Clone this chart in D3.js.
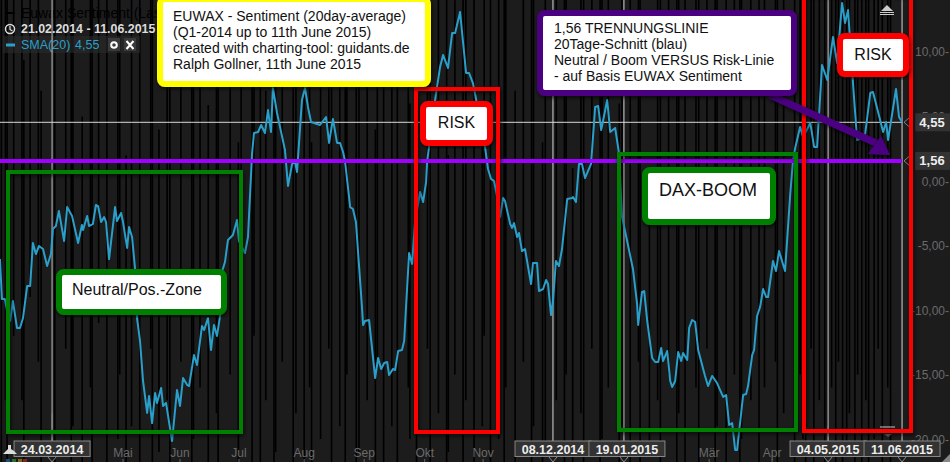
<!DOCTYPE html>
<html><head><meta charset="utf-8">
<script src="https://cdn.jsdelivr.net/npm/d3@7/dist/d3.min.js"></script>
<style>html,body{margin:0;padding:0;background:#1c1c1c;overflow:hidden}svg{display:block;font-family:"Liberation Sans",Arial,sans-serif}</style>
</head><body><svg id="c" width="950" height="462"></svg>
<script>
const smaSessions=[0,0.7,1.8,2.6,3.7,4.7,6.2,7.3,8.4,9.9,11,12,13.1,14.2,15.7,17.2,18.6,19.3,20.4,21.5,23.4,24.5,26.3,28.5,29.9,30.3,31.8,32.5,33.9,35,35.8,36.9,38,38.7,39.8,42,42.7,44.2,44.9,46.4,47.1,48.2,49.3,50,51.1,52.2,53.7,54.4,55.5,56.6,57.3,58.8,59.5,60.6,62.8,64.6,65.7,66.8,68.3,69,70.8,71.9,73.7,74.5,75.9,77,78.1,79.2,80.3,81,82.1,83.2,85,86.5,87.2,89.4,90.5,92,92.7,94.2,95.3,96.7,97.8,98.9,99.6,101.1,104,105.1,106.6,107.7,108.4,110.2,111.3,112.4,113.5,115.7,116.8,119,120.1,121.5,123,124.1,125.2,125.9,127.8,128.8,129.9,132.1,132.5,133.2,134.7,136.9,138,139.1,140.2,141.3,142,143.4,144.2,145.3,146.7,147.5,148.2,149.3,150.4,151.5,153.3,154.4,155.5,155.9,158.8,160.6,161.7,163.5,165,166.1,167.9,170.1,171.2,172.6,174.5,177,178.1,179.2,180.3,181.4,182.5,183.6,184.3,186.2,186.9,187.6,188.7,189.4,190.5,191.6,193.8,194.5,196,196.7,198.2,199.3,200,201.1,201.8,202.9,204,205.1,207,208.8,209.1,210.2,211.3,212.4,213.5,215.7,217.2,218.3,219.4,221.6,222.7,224.5,225.9,227,228.1,231,232.5,232.9,234.3,235.1,236.2,238,239.1,240.2,241.3,242,243.5,244.6,245.3,246.4,247.5,248.6,249.3,250.8,251.5,252.6,253.7,254.8,257.3,258.4,259.9,261.7,263.9,265,266.1,267.2,268.3,269,271.2,272.3,273,274.5,275.2,276.3,277.4,278.5,279.6,280.3,282.1,283.2,284.3,286.5,288.4,289.4,290.2,292,293.1,295.7,297.1,298.2,300,301.9,304,305.5,307.3,308.4,309.5,310.3,311.3,312.8,314.6,315.7,317.6,318.6,322.3,323.4,324.1,327,328.1,329.2];
const smaValues=[-6.05,-9.15,-9.15,-10.08,-10.85,-9.3,-11.39,-11.39,-10.62,-8.14,-8.14,-4.81,-5.66,-5.04,-5.27,-6.59,-5.66,-3.72,-3.49,-2.33,-4.65,-2.02,-2.71,-4.81,-3.41,-3.8,-2.71,-3.49,-3.33,-1.86,-1.94,-3.18,-2.79,-3.18,-6.05,-2.02,-3.1,-2.48,-3.18,-5.19,-3.57,-4.34,-6.82,-10.62,-12.4,-15.5,-17.98,-16.66,-18.76,-16.43,-17.21,-16.04,-17.44,-17.21,-20.15,-16.2,-17.44,-15.27,-15.81,-15.89,-13.49,-14.26,-11.24,-11.55,-10.62,-13.1,-11.16,-12.01,-10.46,-7.05,-6.28,-4.57,-4.19,-3.02,-4.65,-5.58,-4.34,2.17,3.72,3.8,4.34,3.72,5.5,3.8,7.21,5.27,2.4,-0.39,1.32,1.47,0.7,6.28,7.21,5.74,4.57,4.42,4.34,4.96,2.95,4.81,2.95,2.95,2.25,1.55,-2.02,-2.17,-3.18,-9.77,-11.16,-10.85,-10.77,-15.27,-13.72,-14.57,-14.11,-14.03,-15.04,-14.57,-14.65,-13.18,-13.1,-12.4,-9.69,-5.58,-6.43,-3.1,-0.85,-1.63,-0.08,1.55,6.28,8.84,9.77,8.76,11.47,11.47,13.1,8.37,8.37,7.59,5.5,2.64,0.93,0.16,0,-1.16,-2.79,-1.32,-1.55,-3.33,-3.64,-3.26,-4.34,-4.03,-5.43,-5.27,-7.98,-6.36,-6.36,-8.53,-8.37,-7.67,-7.98,-10.39,-9.3,-6.2,-6.59,-5.27,-1.4,-1.32,-1.24,-1.63,1.32,1.32,0.23,1.32,5.74,5.81,3.95,6.28,3.8,4.11,2.17,-2.79,-3.88,-6.82,-9.53,-11.16,-8.6,-8.53,-10.85,-13.72,-14.03,-14.03,-12.94,-13.95,-13.18,-15.5,-15.97,-15.5,-13.25,-13.95,-13.33,-13.87,-11.39,-10.77,-10.93,-13.1,-15.11,-15.89,-15.11,-15.66,-16.74,-16.59,-18.91,-18.76,-20.85,-20.85,-16.59,-16.51,-15.89,-13.49,-13.1,-10.46,-9.77,-8.37,-8.99,-8.99,-6.2,-6.98,-5.43,-6.98,-1.01,1.55,2.56,4.19,3.41,4.5,2.64,2.64,8.99,7.83,11.16,9.15,13.8,12.25,13.25,10.7,7.59,3.18,3.33,3.57,6.82,6.9,3.8,4.57,3.18,7.13,4.96,4.55];

const rawSessions=[0.5,2,2.6,5,8,8.7,11,14,15,19,20,24,26,26.6,30,33,33.6,36,39,43,43.7,46,48,51,55,55.6,58,61,62,66,70,70.6,73,76,79,79.6,84,87,88,92,92.7,95,97,100,100.6,103,107,108,111,113,113.7,117,120,121,124,126,126.6,130,131,134,137,137.7,140,143,145,149,149.6,152,156,157,160,163,163.6,166,169,170,173,176,176.7,179,182,184,184.6,188,191,194,194.7,198,199,203,206,206.6,209,212,213,216,219,219.7,222,226,227,230,233,233.6,237,240,241,244,247,247.7,250,254,255,258,261,261.7,265,268,270,270.6,274,277,279,283,283.7,286,290,292,293,294,296,297,299,301,302,303.5,305,306,307.5,309,310,312,313,314.5,316,317,319,320.5,322,324,325,327,328];
const rawLows=[-22,-17,-22,-12,-17,-22,-9,-14,-22,-18,-22,-13,-22,-19,-22,-16,-22,-11,-22,-20,-15,-22,-19,-22,-13,-22,-21,-17,-22,-14,-22,-20,-16,-22,-18,-22,-15,-22,-19,-22,-12,-22,-17,-22,-21,-14,-22,-18,-22,-16,-22,-20,-13,-22,-19,-22,-15,-22,-21,-17,-22,-14,-22,-19,-22,-16,-20,-22,-13,-22,-18,-22,-21,-15,-22,-17,-22,-19,-12,-22,-20,-22,-16,-22,-14,-22,-19,-22,-21,-17,-22,-15,-22,-18,-22,-13,-22,-20,-16,-22,-19,-22,-14,-22,-21,-17,-22,-15,-22,-18,-22,-16,-22,-13,-22,-19,-22,-15,-22,-20,-17,-22,-16,-14,-22,-18,-22,-15,-20,-22,-13,-22,-17,-22,-19,-16,-22,-14,-22,-21,-18,-22,-15,-22,-17,-22,-20,-13,-22,-16,-22,-19,-22,-14,-22];
const rawHighs=[15,15,15,15,15,9.4,15,15,7,15,15,15,15,15,5,15,15,15,15,15,15,2,15,15,15,15,4,15,15,15,15,15,15,5.9,15,15,15,3,15,15,15,15,7,15,15,15,15,15,15,15,3,15,15,15,8,15,15,15,15,15,4,15,15,15,15,15,6,15,15,15,15,15,2,15,15,15,15,5,15,15,15,15,15,7,15,15,15,3,15,15,15,15,1,15,15,15,15,15,15,6,15,15,15,15,-3,15,15,15,15,15,15,15,15,15,15,15,15,15,15,15,15,15,15,15,15,15,15,15,15,15,15,15,15,15,15,15,15,15,15,15,15,15,15,15,15,15,15,15,15,15,15];

const yTickValues=[10,5,0,-5,-10,-15,-20];
const monthTicks=[[44.9,"Mai"],[65.7,"Jun"],[87.2,"Jul"],[111,"Aug"],[132.9,"Sep"],[155,"Okt"],[176.3,"Nov"],[258.8,"Mär"],[281.8,"Apr"]];
const dateMarkers=[[19,"24.03.2014"],[201.8,"08.12.2014"],[227.7,"19.01.2015"],[302.2,"04.05.2015"],[329.2,"11.06.2015"]];
const lastSma=4.55, divider=1.56, lastSession=329.2;
const titleLines=["EUWAX - Sentiment (20day-average)","(Q1-2014 up to 11th June 2015)","created with charting-tool: guidants.de","Ralph Gollner, 11th June 2015"];
const noteLines=["1,56 TRENNUNGSLINIE","20Tage-Schnitt (blau)","Neutral / Boom VERSUS Risk-Linie","- auf Basis EUWAX Sentiment"];

const svg=d3.select("#c");
const x=d3.scaleLinear().domain([0,346.7]).range([0,950]);
const y=d3.scaleLinear().domain([14.03,-21.78]).range([0,462]);
const fmt=v=>d3.format(".2f")(v).replace(".",",").replace("−","-");

svg.append("rect").attr("width",950).attr("height",462).attr("fill","#1c1c1c");
const defs=svg.append("defs");
const sh=defs.append("filter").attr("id","sh").attr("x","-10%").attr("y","-10%").attr("width","120%").attr("height","125%");
sh.append("feDropShadow").attr("dx",1).attr("dy",2).attr("stdDeviation",2).attr("flood-color","#000").attr("flood-opacity",.7);

svg.append("g").selectAll("line").data(d3.zip(rawSessions,rawLows,rawHighs)).join("line")
 .attr("x1",d=>x(d[0])).attr("x2",d=>x(d[0])).attr("y1",d=>y(d[2])).attr("y2",d=>y(d[1]))
 .attr("stroke","#000").attr("stroke-width",1.6);

// legend
svg.append("rect").attr("x",3).attr("y",36).attr("width",137).attr("height",17).attr("fill","#2a2a2a").attr("opacity",.6);
svg.append("text").attr("x",21).attr("y",18).attr("font-size",14).attr("fill","#000").text("Euwax Sentiment (Last)");
svg.append("line").attr("x1",6).attr("x2",15).attr("y1",13).attr("y2",13).attr("stroke","#000").attr("stroke-width",2);
svg.append("circle").attr("cx",10).attr("cy",29).attr("r",4.5).attr("fill","none").attr("stroke","#ddd").attr("stroke-width",1.5);
svg.append("path").attr("d","M10 26V29.5L12.5 31").attr("fill","none").attr("stroke","#ddd").attr("stroke-width",1.2);
svg.append("text").attr("x",21).attr("y",33).attr("font-size",12.4).attr("font-weight","bold").attr("fill","#ddd").text("21.02.2014 - 11.06.2015");
svg.append("line").attr("x1",6).attr("x2",15).attr("y1",45).attr("y2",45).attr("stroke","#2a9fc9").attr("stroke-width",3);
svg.append("text").attr("x",21).attr("y",49).attr("font-size",12.5).attr("fill","#2a9fc9").text("SMA(20)");
svg.append("text").attr("x",75).attr("y",49).attr("font-size",12.5).attr("fill","#2a9fc9").text(fmt(lastSma));
svg.append("rect").attr("x",108).attr("y",38).attr("width",12).attr("height",13).attr("fill","#3a3a3a");
svg.append("rect").attr("x",124).attr("y",38).attr("width",12).attr("height",13).attr("fill","#3a3a3a");
svg.append("circle").attr("cx",114).attr("cy",45).attr("r",2.8).attr("fill","none").attr("stroke","#fff").attr("stroke-width",2);
svg.append("path").attr("d","M126.5 41L133.5 49M133.5 41L126.5 49").attr("stroke","#fff").attr("stroke-width",2);

// crosshairs
svg.append("g").selectAll("line").data(dateMarkers).join("line")
 .attr("x1",d=>x(d[0])).attr("x2",d=>x(d[0])).attr("y1",0).attr("y2",y(-20.5))
 .attr("stroke","#d8d8d8").attr("stroke-width",1);
svg.append("line").attr("x1",0).attr("x2",x(lastSession)).attr("y1",y(lastSma)).attr("y2",y(lastSma)).attr("stroke","#d8d8d8").attr("stroke-width",1);

// SMA
svg.append("path").datum(d3.zip(smaSessions,smaValues)).attr("fill","none").attr("stroke","#2a9fc9").attr("stroke-width",2).attr("stroke-linejoin","round")
 .attr("d",d3.line().x(d=>x(d[0])).y(d=>y(d[1])));
// divider
svg.append("line").attr("x1",0).attr("x2",x(lastSession)).attr("y1",y(divider)).attr("y2",y(divider)).attr("stroke","#a000ff").attr("stroke-width",4);

// y axis labels
svg.append("g").selectAll("text").data(yTickValues).join("text")
 .attr("x",949).attr("y",d=>y(d)+4.5).attr("text-anchor","end").attr("font-size",12).attr("fill","#6a6a6a")
 .text(d=>fmt(d)+"-");
// value flags
[[lastSma],[divider]].forEach(([v])=>{
 const g=svg.append("g").attr("transform",`translate(0,${y(v)})`);
 g.append("rect").attr("x",915).attr("y",-9).attr("width",35).attr("height",18).attr("fill","#333");
 g.append("path").attr("d","M912 -7L904 0L912 7").attr("fill","none").attr("stroke","#888");
 g.append("text").attr("x",932).attr("y",4.5).attr("text-anchor","middle").attr("font-size",13).attr("font-weight","bold").attr("fill","#eee").text(fmt(v));
});

// x axis
svg.append("g").selectAll("text").data(monthTicks).join("text")
 .attr("x",d=>x(d[0])).attr("y",457).attr("text-anchor","middle").attr("font-size",12).attr("fill","#6a6a6a").text(d=>d[1]);
svg.append("g").selectAll("line").data(monthTicks).join("line")
 .attr("x1",d=>x(d[0])).attr("x2",d=>x(d[0])).attr("y1",459).attr("y2",462).attr("stroke","#666");
const dm=svg.append("g").selectAll("g").data(dateMarkers).join("g").attr("transform",d=>`translate(${x(d[0])+(d[1]==="19.01.2015"?3:0)},0)`);
dm.append("rect").attr("x",-38).attr("y",441).attr("width",76).attr("height",15.5).attr("fill","#333").attr("stroke","#888");
dm.append("text").attr("y",453.5).attr("text-anchor","middle").attr("font-size",12.5).attr("font-weight","bold").attr("fill","#eee").text(d=>d[1]);
svg.append("g").selectAll("path").data(dateMarkers).join("path")
 .attr("d",d=>`M${x(d[0])-4} 457L${x(d[0])} 462L${x(d[0])+4} 457`).attr("fill","none").attr("stroke","#888");

// small controls
svg.append("path").attr("d","M881 11L887 5L893 11Z").attr("fill","#ccc");
svg.append("path").attr("d","M880 12.5H894M880 14.5H894").attr("stroke","#ccc");
svg.append("path").attr("d","M880 427H895").attr("stroke","#ccc");
svg.append("path").attr("d","M884 434H892L888 437Z").attr("fill","#666");
svg.append("path").attr("d","M3 454L6 451L8 449V445H11V449L14 451L17 454Z").attr("fill","#ddd");
[["#13507a",6],["#2a6a2a",12],["#7a6a18",18],["#7a2a18",23]].forEach(([c,px])=>svg.append("rect").attr("x",px).attr("y",459).attr("width",4).attr("height",3).attr("fill",c));
svg.append("path").attr("d","M942 462L950 454V462Z").attr("fill","#888");

// annotations
const frame=(xx,yy,w,h,c)=>svg.append("rect").attr("x",xx).attr("y",yy).attr("width",w).attr("height",h).attr("fill","none").attr("stroke",c).attr("stroke-width",4).attr("filter","url(#sh)");
frame(8,172,233,260,"#008000");
frame(416,89,82,343,"#ff0000");
frame(619,154,177,276,"#008000");
frame(804,-6,107,437,"#ff0000");

const box=(x0,y0,x1,y1,c)=>svg.append("rect").attr("x",x0+3).attr("y",y0+3).attr("width",x1-x0-6).attr("height",y1-y0-6).attr("rx",5).attr("fill","#fff").attr("stroke",c).attr("stroke-width",6).attr("filter","url(#sh)");
const txt=(xx,yy,s,size,anchor)=>svg.append("text").attr("x",xx).attr("y",yy).attr("font-size",size).attr("text-anchor",anchor||"start").attr("fill","#111").text(s);

// arrow
svg.append("path").attr("d","M770 95L876 143").attr("stroke","#4b0082").attr("stroke-width",7).attr("fill","none").attr("filter","url(#sh)");
svg.append("path").attr("d","M881 136L890 155L868 154Z").attr("fill","#4b0082").attr("filter","url(#sh)");

box(157,-4,431,87,"#ffff00");
titleLines.forEach((s,i)=>txt(173,21+16*i,s,14));
box(537,10,797,96,"#4b0082");
noteLines.forEach((s,i)=>txt(554,33+16*i,s,14));
box(56,269,227,315,"#008000"); txt(72,295,"Neutral/Pos.-Zone",16);
box(420,101,493,146,"#ff0000"); txt(456.5,128,"RISK",16,"middle");
box(642,167,776,225,"#008000"); txt(659,196,"DAX-BOOM",18);
box(837,33,909,77,"#ff0000"); txt(873,60,"RISK",16,"middle");
</script></body></html>
